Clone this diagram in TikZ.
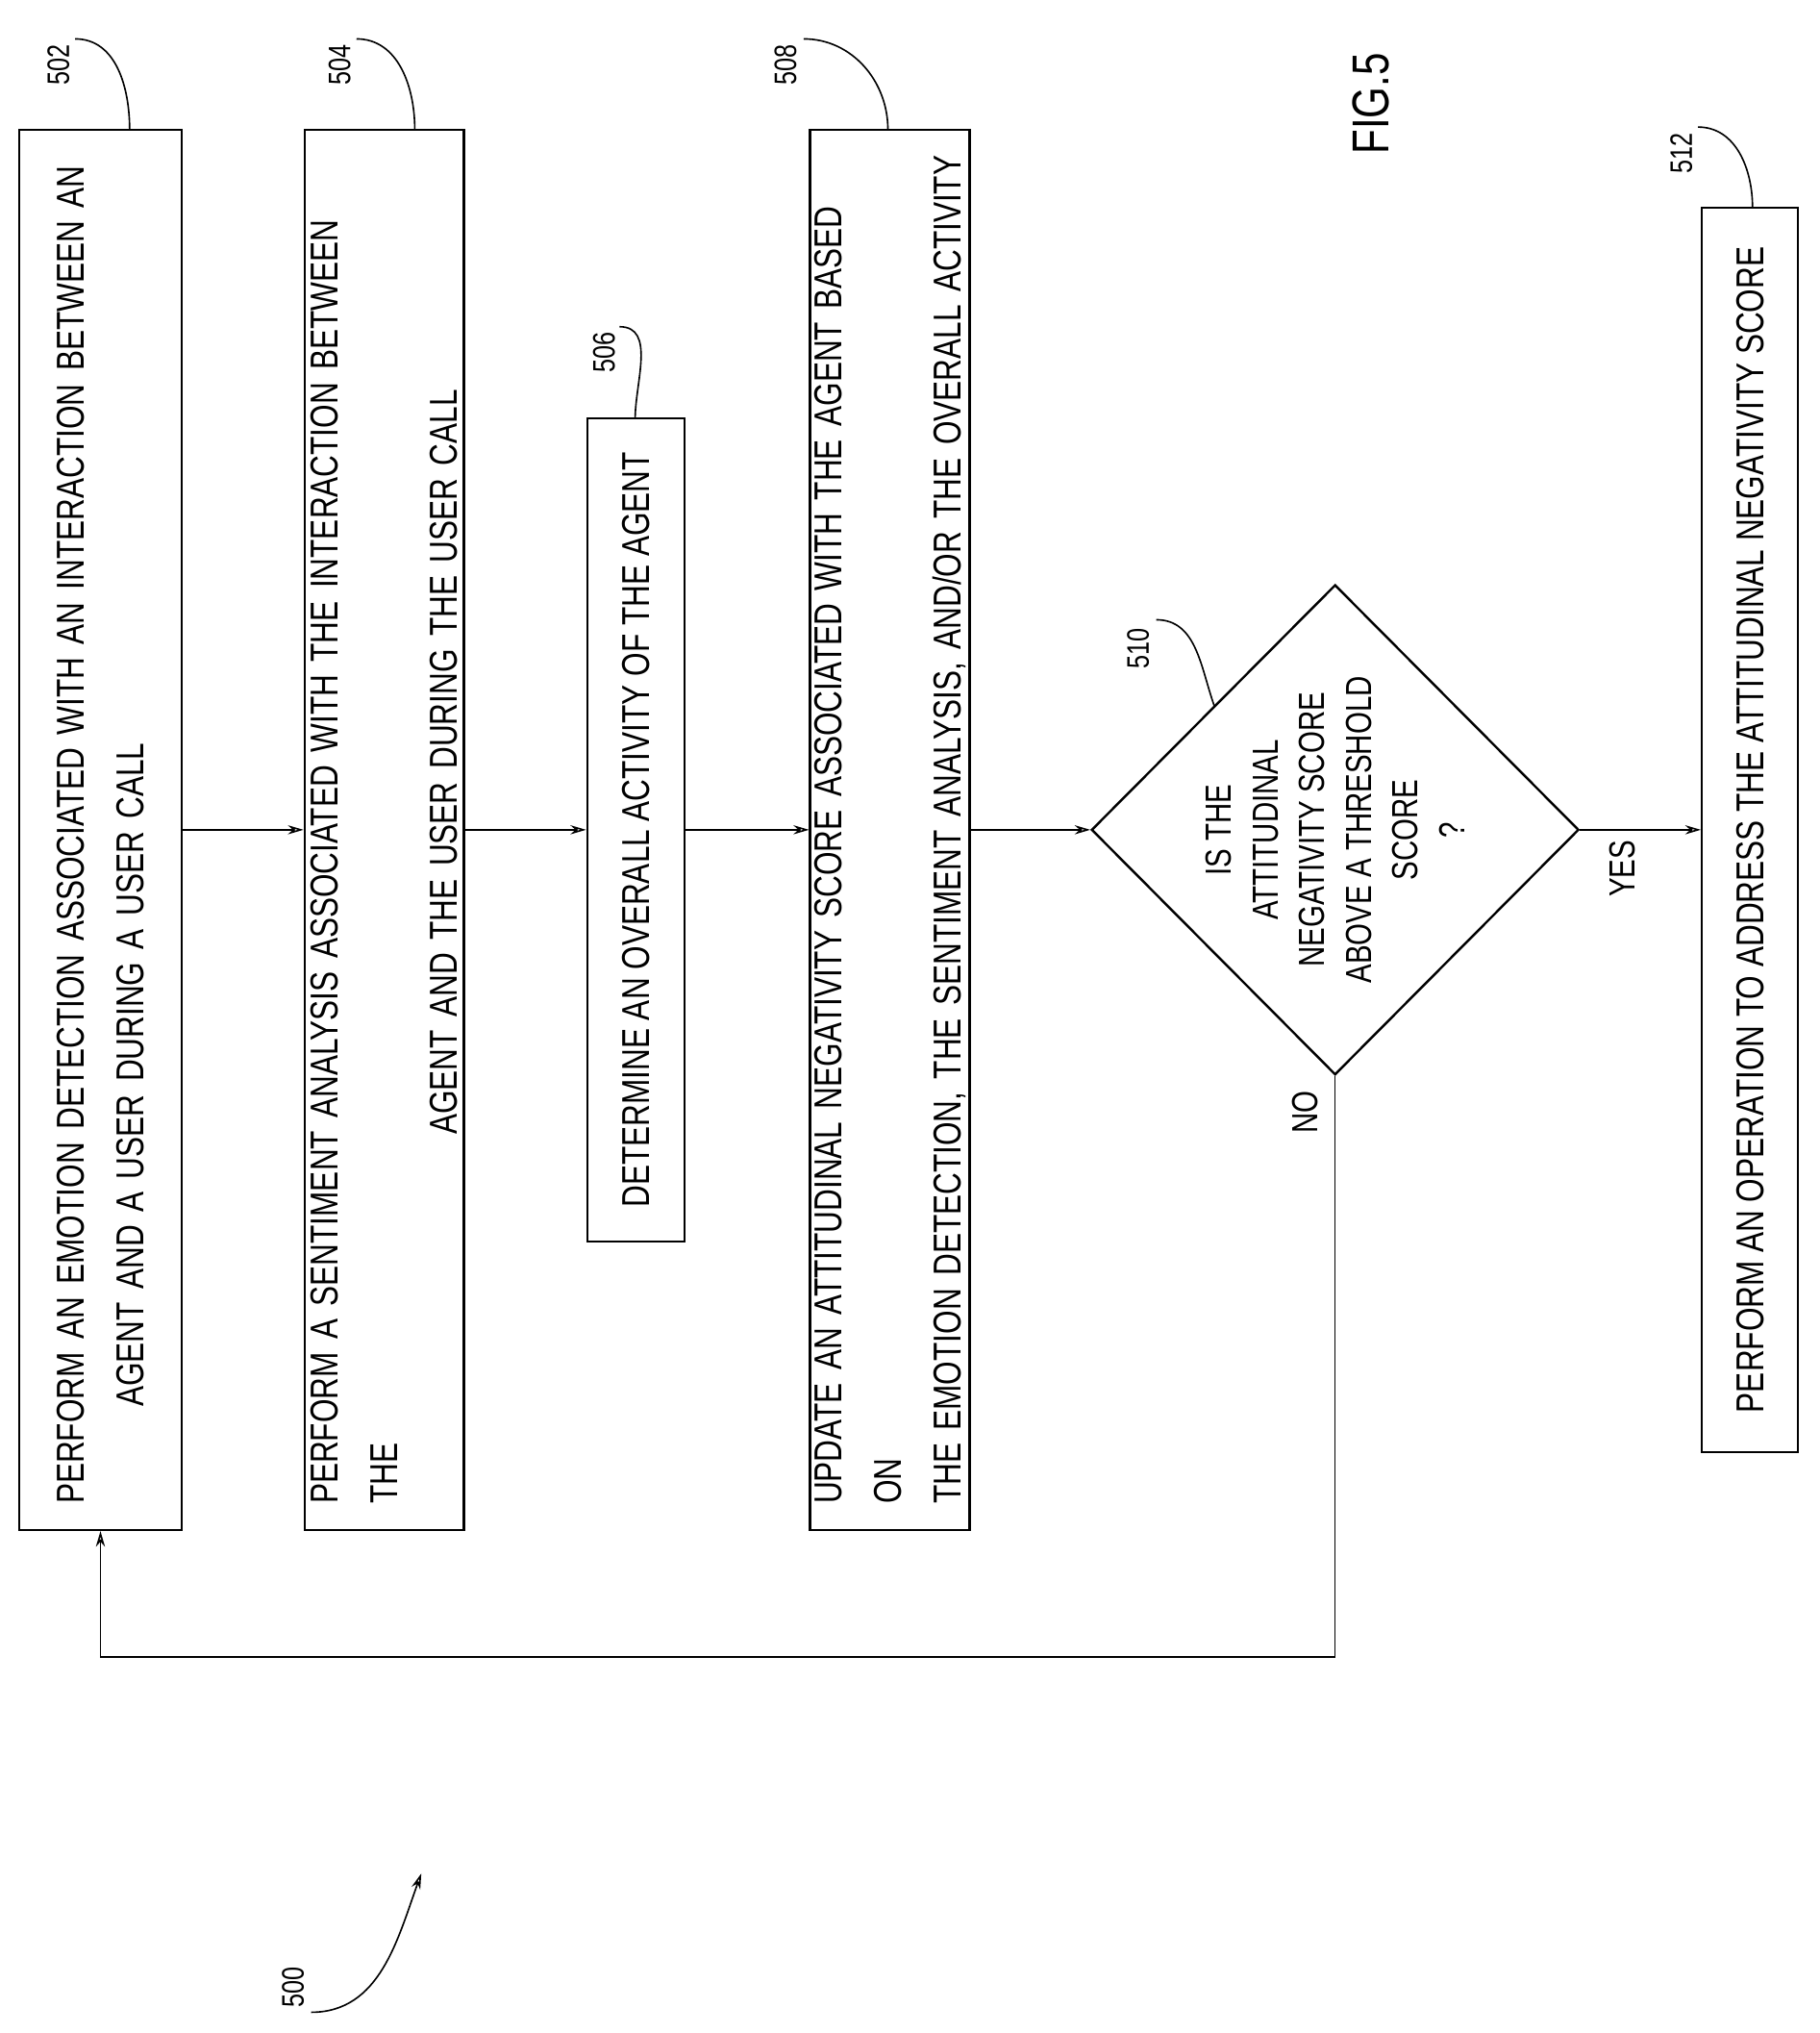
\documentclass[tikz,border=0pt]{standalone}
\usepackage{fontspec}
\setmainfont{Liberation Sans}[FakeStretch=0.78]
\usetikzlibrary{arrows.meta}
\usetikzlibrary{shapes.geometric}

\tikzset{
    stage/.style = {draw, line width=1.8pt, rotate=90, align=center, inner sep=0pt,
        font=\fontsize{30}{46}\selectfont},
    wide/.style = {align=left, text width=1040},
    flow/.style = {line width=1.2pt, arrows = {-Stealth[width=7pt, length=12pt, open]}},
    tag/.style = {rotate=90, font=\fontsize{24}{28}\selectfont},
    lead/.style = {line width=1.2pt},
}

\begin{document}
\begin{tikzpicture}[x=1pt, y=-1pt]
    \useasboundingbox (0, 0) rectangle (1404, 1568);
    % boxes
    \node[stage, wide, minimum width=1080, minimum height=125] (emo) at (77.5, 640)
        {PERFORM AN EMOTION DETECTION ASSOCIATED WITH AN INTERACTION BETWEEN AN\\\hspace*{2.5em}AGENT AND A USER DURING A USER CALL};
    \node[stage, wide, minimum width=1080, minimum height=123] (sent) at (296.5, 640)
        {PERFORM A SENTIMENT ANALYSIS ASSOCIATED WITH THE INTERACTION BETWEEN THE\\\hspace*{9.5em}AGENT AND THE USER DURING THE USER CALL};
    \node[stage, minimum width=635, minimum height=75] (act) at (490.5, 640)
        {DETERMINE AN OVERALL ACTIVITY OF THE AGENT};
    \node[stage, wide, minimum width=1080, minimum height=123] (upd) at (686.5, 640)
        {UPDATE AN ATTITUDINAL NEGATIVITY SCORE ASSOCIATED WITH THE AGENT BASED ON\\THE EMOTION DETECTION, THE SENTIMENT ANALYSIS, AND/OR THE OVERALL ACTIVITY};
    \node[draw, line width=1.8pt, diamond, minimum width=376, minimum height=378, inner sep=0pt] (dec) at (1030, 640) {};
    \node[rotate=90, align=center, font=\fontsize{28}{36}\selectfont] (dectxt) at (1030, 640)
        {IS THE\\ATTITUDINAL\\NEGATIVITY SCORE\\ABOVE A THRESHOLD\\SCORE\\?};
    \node[stage, minimum width=960, minimum height=74] (op) at (1350, 640)
        {PERFORM AN OPERATION TO ADDRESS THE ATTITUDINAL NEGATIVITY SCORE};
    % connectors
    \draw[flow] (emo) -- (sent);
    \draw[flow] (sent) -- (act);
    \draw[flow] (act) -- (upd);
    \draw[flow] (upd) -- (dec.west);
    \draw[flow] (dec.east) -- (op);
    \coordinate (nob) at (1030, 1278);
    \coordinate (noa) at (77.5, 1278);
    \draw[flow] (dec.south) -- (nob) -- (noa) -- (emo.west);
    \node[tag, font=\fontsize{28}{32}\selectfont] (yes) at (1252, 670) {YES};
    \node[tag, font=\fontsize{28}{32}\selectfont] (no) at (1007, 858) {NO};
    % reference numerals
    \node[tag] (n502) at (45, 50) {502};
    \draw[lead] (58, 30) to[out=0, in=90] (100, 100);
    \node[tag] (n504) at (262, 50) {504};
    \draw[lead] (275, 30) to[out=0, in=90] (320, 100);
    \node[tag] (n506) at (466, 272) {506};
    \draw[lead] (478, 252) to[out=0, in=90] (490, 323);
    \node[tag] (n508) at (606, 50) {508};
    \draw[lead] (620, 30) to[out=0, in=90] (685, 100);
    \node[tag] (n510) at (878, 500) {510};
    \draw[lead] (892, 478) to[out=0, in=110] (937, 545);
    \node[tag] (n512) at (1297, 118) {512};
    \draw[lead] (1310, 98) to[out=0, in=90] (1352, 160);
    \node[rotate=90, font=\fontsize{40}{46}\selectfont] (fig) at (1058, 80) {FIG.5};
    \node[tag] (n500) at (226, 1533) {500};
    \draw[lead, arrows = {-Stealth[width=7pt, length=12pt, open]}] (240, 1552) to[out=0, in=250] (325, 1445);
\end{tikzpicture}
\end{document}
